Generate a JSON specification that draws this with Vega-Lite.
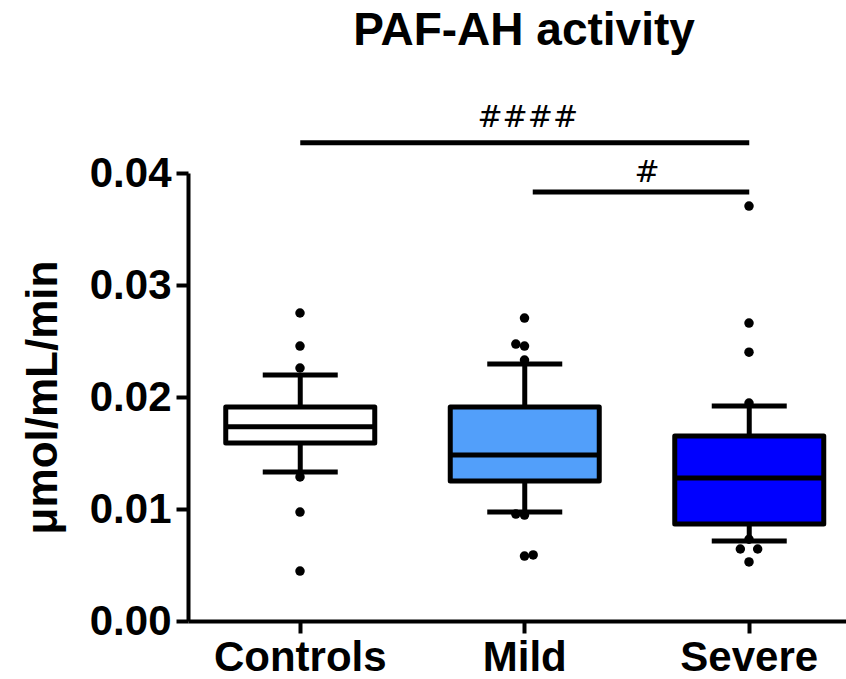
{
  "$schema": "https://vega.github.io/schema/vega-lite/v6.json",
  "width": 658,
  "height": 448,
  "autosize": {"type": "none"},
  "padding": {"left": 188, "top": 173, "right": 0, "bottom": 58},
  "background": "white",
  "title": {
    "text": "PAF-AH activity",
    "font": "Liberation Sans",
    "fontSize": 46,
    "fontWeight": "bold",
    "color": "black",
    "anchor": "middle",
    "frame": "group",
    "dx": 7,
    "offset": 48
  },
  "config": {
    "view": {"stroke": null},
    "axis": {"grid": false, "domainColor": "black", "tickColor": "black", "labelColor": "black", "titleColor": "black"}
  },
  "datasets": {
    "summary": [
      {"group": "Controls", "lower": 0.0133, "q1": 0.0159, "median": 0.01735, "q3": 0.0191, "upper": 0.02196},
      {"group": "Mild", "lower": 0.00973, "q1": 0.0125, "median": 0.01482, "q3": 0.0191, "upper": 0.02295},
      {"group": "Severe", "lower": 0.00714, "q1": 0.00866, "median": 0.01277, "q3": 0.01652, "upper": 0.0192}
    ],
    "points": [
      {"group": "Controls", "value": 0.0275, "slot": "c"},
      {"group": "Controls", "value": 0.02455, "slot": "c"},
      {"group": "Controls", "value": 0.02259, "slot": "c"},
      {"group": "Controls", "value": 0.01286, "slot": "c"},
      {"group": "Controls", "value": 0.00973, "slot": "c"},
      {"group": "Controls", "value": 0.00446, "slot": "c"},
      {"group": "Mild", "value": 0.02705, "slot": "c"},
      {"group": "Mild", "value": 0.02473, "slot": "l"},
      {"group": "Mild", "value": 0.02455, "slot": "c"},
      {"group": "Mild", "value": 0.0233, "slot": "c"},
      {"group": "Mild", "value": 0.00955, "slot": "l"},
      {"group": "Mild", "value": 0.00946, "slot": "c"},
      {"group": "Mild", "value": 0.0058, "slot": "c"},
      {"group": "Mild", "value": 0.0059, "slot": "r"},
      {"group": "Severe", "value": 0.03705, "slot": "c"},
      {"group": "Severe", "value": 0.0266, "slot": "c"},
      {"group": "Severe", "value": 0.024, "slot": "c"},
      {"group": "Severe", "value": 0.01946, "slot": "c"},
      {"group": "Severe", "value": 0.0073, "slot": "c"},
      {"group": "Severe", "value": 0.00643, "slot": "l"},
      {"group": "Severe", "value": 0.00643, "slot": "r"},
      {"group": "Severe", "value": 0.00527, "slot": "c"}
    ]
  },
  "encoding": {
    "x": {
      "field": "group",
      "type": "nominal",
      "sort": ["Controls", "Mild", "Severe"],
      "scale": {"domain": ["Controls", "Mild", "Severe"], "range": [0, 673.5], "paddingInner": 0, "paddingOuter": 0},
      "axis": {
        "title": null,
        "labelAngle": 0,
        "labelLimit": 0,
        "labelFont": "Liberation Sans",
        "labelFontSize": 42,
        "labelFontWeight": "bold",
        "labelPadding": 4,
        "domainWidth": 4,
        "tickWidth": 4,
        "tickSize": 12,
        "labelBaseline": "top"
      }
    }
  },
  "layer": [
    {
      "data": {"name": "summary"},
      "mark": {"type": "rule", "color": "black", "strokeWidth": 5},
      "encoding": {
        "y": {
          "field": "lower",
          "type": "quantitative",
          "scale": {"domain": [0, 0.04], "nice": false, "zero": true},
          "axis": {
            "title": "μmol/mL/min",
            "titleFont": "Liberation Sans",
            "titleFontSize": 44,
            "titleFontWeight": "bold",
            "titlePadding": 24,
            "values": [0, 0.01, 0.02, 0.03, 0.04],
            "format": ".2f",
            "labelFont": "Liberation Sans",
            "labelFontSize": 42,
            "labelFontWeight": "bold",
            "labelPadding": 5,
            "domainWidth": 4,
            "tickWidth": 4,
            "tickSize": 12
          }
        },
        "y2": {"field": "upper"}
      }
    },
    {
      "data": {"name": "summary"},
      "mark": {"type": "tick", "color": "black", "opacity": 1, "thickness": 5, "size": 75, "orient": "horizontal"},
      "encoding": {"y": {"field": "lower", "type": "quantitative"}}
    },
    {
      "data": {"name": "summary"},
      "mark": {"type": "tick", "color": "black", "opacity": 1, "thickness": 5, "size": 75, "orient": "horizontal"},
      "encoding": {"y": {"field": "upper", "type": "quantitative"}}
    },
    {
      "data": {"name": "summary"},
      "mark": {"type": "bar", "width": 149, "stroke": "black", "strokeWidth": 5, "strokeJoin": "round", "opacity": 1},
      "encoding": {
        "y": {"field": "q1", "type": "quantitative"},
        "y2": {"field": "q3"},
        "fill": {
          "field": "group",
          "type": "nominal",
          "scale": {"domain": ["Controls", "Mild", "Severe"], "range": ["#ffffff", "#529ffa", "#0000ff"]},
          "legend": null
        }
      }
    },
    {
      "data": {"name": "summary"},
      "mark": {"type": "tick", "color": "black", "opacity": 1, "thickness": 5, "size": 146, "orient": "horizontal"},
      "encoding": {"y": {"field": "median", "type": "quantitative"}}
    },
    {
      "data": {"name": "points"},
      "mark": {"type": "circle", "color": "black", "opacity": 1, "size": 90},
      "encoding": {
        "y": {"field": "value", "type": "quantitative"},
        "xOffset": {
          "field": "slot",
          "type": "nominal",
          "scale": {"type": "point", "domain": ["l", "c", "r"], "range": [99, 125]}
        }
      }
    },
    {
      "data": {"values": [{"from": "Controls", "to": "Severe", "y": 0.0427}]},
      "mark": {"type": "rule", "color": "black", "strokeWidth": 5},
      "encoding": {
        "x": {"field": "from", "type": "nominal"},
        "x2": {"field": "to"},
        "y": {"field": "y", "type": "quantitative"}
      }
    },
    {
      "data": {"values": [{"from": "Mild", "to": "Severe", "y": 0.0383}]},
      "mark": {"type": "rule", "color": "black", "strokeWidth": 5, "xOffset": 8},
      "encoding": {
        "x": {"field": "from", "type": "nominal"},
        "x2": {"field": "to"},
        "y": {"field": "y", "type": "quantitative"}
      }
    },
    {
      "data": {"values": [{"group": "Mild", "y": 0.0441, "label": "####"}]},
      "mark": {"type": "text", "font": "DejaVu Sans", "fontSize": 30, "color": "black", "baseline": "alphabetic", "align": "center", "dx": 3},
      "encoding": {
        "y": {"field": "y", "type": "quantitative"},
        "text": {"field": "label"}
      }
    },
    {
      "data": {"values": [{"group": "Severe", "y": 0.0392, "label": "#"}]},
      "mark": {"type": "text", "font": "DejaVu Sans", "fontSize": 30, "color": "black", "baseline": "alphabetic", "align": "center", "dx": 10},
      "encoding": {
        "x": {"field": "group", "type": "nominal", "bandPosition": 0},
        "y": {"field": "y", "type": "quantitative"},
        "text": {"field": "label"}
      }
    }
  ]
}
